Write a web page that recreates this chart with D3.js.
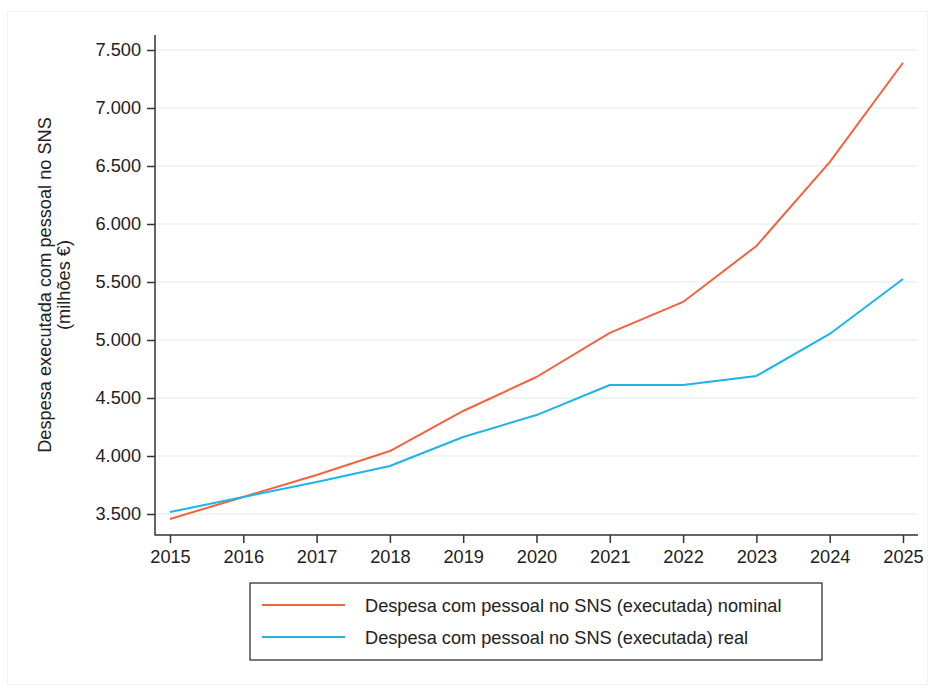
<!DOCTYPE html>
<html><head><meta charset="utf-8">
<script src="https://cdn.jsdelivr.net/npm/d3@7"></script>
<style>
body{margin:0;background:#fff;}
text{font-family:"Liberation Sans",Arial,sans-serif;}
</style></head>
<body>
<svg id="c" width="929" height="686"></svg>
<script>
const years = [2015,2016,2017,2018,2019,2020,2021,2022,2023,2024,2025];
const nominal = [3457,3647,3836,4043,4388,4681,5062,5328,5810,6534,7390];
const real = [3517,3647,3776,3914,4164,4353,4612,4612,4690,5052,5526];
const yTicks = [3500,4000,4500,5000,5500,6000,6500,7000,7500];
const seriesNames = ["Despesa com pessoal no SNS (executada) nominal","Despesa com pessoal no SNS (executada) real"];
const colors = ["#f4623e","#1eb3ea"];
const yTitle = ["Despesa executada com pessoal no SNS","(milhões €)"];
const FS = 18.2;

const svg = d3.select("#c");
svg.append("rect").attr("x",7.5).attr("y",11.5).attr("width",920).attr("height",673)
  .attr("fill","#fff").attr("stroke","#f3f3f3");

const x = d3.scaleLinear().domain([2015,2025]).range([170,903]);
const y = d3.scaleLinear().domain([3500,7500]).range([514,50]);
const fmt = d => d3.format(",")(d).replace(/,/g,".");

// grid
svg.append("g").selectAll("line").data(yTicks).join("line")
  .attr("x1",156).attr("x2",918).attr("y1",d=>y(d)).attr("y2",d=>y(d))
  .attr("stroke","#eaf0f3").attr("stroke-width",1.5);

// y axis
const ya = svg.append("g").attr("transform","translate(155,0)")
  .call(d3.axisLeft(y).tickValues(yTicks).tickFormat(fmt).tickSize(8).tickPadding(6));
ya.select(".domain").remove();
svg.append("line").attr("x1",155).attr("x2",155).attr("y1",35).attr("y2",535.5).attr("stroke","#333").attr("stroke-width",1.5);
ya.selectAll("line").attr("stroke","#333").attr("stroke-width",1.5);
ya.selectAll("text").attr("font-size",FS).attr("fill","#222").style("font-family","Liberation Sans, Arial, sans-serif");

// x axis
const xa = svg.append("g").attr("transform","translate(0,535)")
  .call(d3.axisBottom(x).tickValues(years).tickFormat(d3.format("d")).tickSize(8).tickPadding(7));
xa.select(".domain").remove();
svg.append("line").attr("x1",155).attr("x2",918).attr("y1",535).attr("y2",535).attr("stroke","#333").attr("stroke-width",1.5);
xa.selectAll("line").attr("stroke","#333").attr("stroke-width",1.5);
xa.selectAll("text").attr("font-size",FS).attr("fill","#222").style("font-family","Liberation Sans, Arial, sans-serif");

// y title
const yt = svg.append("text").attr("transform","translate(51,285) rotate(-90)")
  .attr("text-anchor","middle").attr("font-size",FS).attr("fill","#222");
yt.append("tspan").attr("x",0).attr("dy",0).text(yTitle[0]);
yt.append("tspan").attr("x",0).attr("dy",19).text(yTitle[1]);

// lines
const line = d3.line().x((d,i)=>x(years[i])).y(d=>y(d));
[nominal,real].forEach((s,k)=>{
  svg.append("path").datum(s).attr("d",line).attr("fill","none")
    .attr("stroke",colors[k]).attr("stroke-width",2).attr("stroke-linejoin","round");
});

// legend
const lg = svg.append("g");
lg.append("rect").attr("x",250).attr("y",583).attr("width",572).attr("height",77)
  .attr("fill","#fff").attr("stroke","#222").attr("stroke-width",1.2);
seriesNames.forEach((n,k)=>{
  const ly = 605 + k*32;
  lg.append("line").attr("x1",262).attr("x2",345).attr("y1",ly).attr("y2",ly)
    .attr("stroke",colors[k]).attr("stroke-width",2);
  lg.append("text").attr("x",365).attr("y",ly+6.5).attr("font-size",FS).attr("fill","#222").text(n);
});
</script>
</body></html>
